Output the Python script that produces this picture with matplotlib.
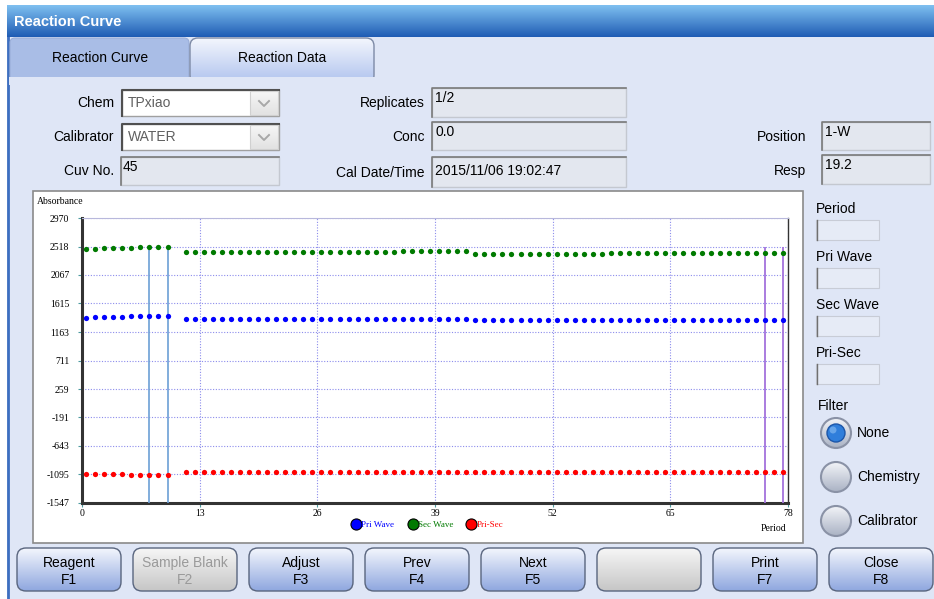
import numpy as np
import matplotlib.pyplot as plt
import matplotlib.colors as mcolors
from matplotlib.patches import Rectangle, FancyBboxPatch, Circle
from matplotlib.lines import Line2D

W, H = 934, 599

# ---- chart data ----
periods = list(range(1, 11)) + list(range(12, 79))

pri_wave = [1387, 1396, 1401, 1405, 1408, 1410, 1412, 1415, 1416, 1418,
            1371, 1372, 1372, 1373, 1373, 1373, 1374, 1374, 1374, 1374,
            1375, 1375, 1375, 1375, 1375, 1375, 1376, 1376, 1376, 1376,
            1376, 1376, 1376, 1376, 1377, 1377, 1377, 1377, 1377, 1377,
            1377, 1377,
            1346, 1346, 1346, 1347, 1347, 1347, 1347, 1347, 1348, 1348,
            1348, 1348, 1348, 1348, 1348, 1349, 1349, 1349, 1349, 1349,
            1349, 1349, 1349, 1350, 1350, 1350, 1350, 1350, 1350, 1350,
            1350, 1350, 1350, 1351, 1351]

sec_wave = [2477, 2483, 2488, 2493, 2497, 2501, 2506, 2511, 2514, 2518,
            2434, 2435, 2435, 2436, 2436, 2436, 2437, 2437, 2437, 2437,
            2438, 2438, 2438, 2438, 2438, 2438, 2439, 2439, 2439, 2439,
            2439, 2439, 2439, 2439, 2440, 2440, 2440, 2440, 2440, 2440,
            2440, 2440,
            2405, 2405, 2405, 2406, 2406, 2406, 2406, 2406, 2407, 2407,
            2407, 2407, 2407, 2407, 2407, 2408, 2408, 2408, 2408, 2408,
            2408, 2408, 2408, 2409, 2409, 2409, 2409, 2409, 2409, 2409,
            2409, 2409, 2409, 2410, 2410]

pri_sec = [-1090, -1092, -1093, -1094, -1095, -1096, -1097, -1097, -1098, -1100,
           -1063, -1063, -1063, -1063, -1063, -1063, -1063, -1063, -1063, -1063,
           -1063, -1063, -1063, -1063, -1063, -1063, -1063, -1063, -1063, -1063,
           -1063, -1063, -1063, -1063, -1063, -1063, -1063, -1063, -1063, -1063,
           -1063, -1063,
           -1059, -1059, -1059, -1059, -1059, -1059, -1059, -1059, -1059, -1059,
           -1059, -1059, -1059, -1059, -1059, -1059, -1059, -1059, -1059, -1059,
           -1059, -1059, -1059, -1059, -1059, -1059, -1059, -1059, -1059, -1059,
           -1059, -1059, -1059, -1059, -1059]

y_ticks = [2970, 2518, 2067, 1615, 1163, 711, 259, -191, -643, -1095, -1547]
x_ticks = [0, 13, 26, 39, 52, 65, 78]
read_start = [8, 10]
read_end = [76, 78]

# ---- form contents ----
left_fields = [("Chem", "TPxiao"), ("Calibrator", "WATER"), ("Cuv No.", "45")]
mid_fields = [("Replicates", "1/2"), ("Conc", "0.0"),
              ("Cal Date/Time", "2015/11/06 19:02:47")]
right_fields = [("Position", "1-W"), ("Resp", "19.2")]
side_fields = ["Period", "Pri Wave", "Sec Wave", "Pri-Sec"]
filters = ["None", "Chemistry", "Calibrator"]
buttons = [("Reagent", "F1"), ("Sample Blank", "F2"), ("Adjust", "F3"),
           ("Prev", "F4"), ("Next", "F5"), ("", ""), ("Print", "F7"),
           ("Close", "F8")]
disabled = {1, 5}

UI = "Liberation Sans"
SERIF = "Liberation Serif"

fig = plt.figure(figsize=(W / 100, H / 100), dpi=100)
bg = fig.add_axes([0, 0, 1, 1])
bg.set_axis_off()


def gradient(x0, y0, x1, y1, top, bottom, clip=None, z=1):
    c0 = np.array(mcolors.to_rgb(top))
    c1 = np.array(mcolors.to_rgb(bottom))
    t = np.linspace(0, 1, 64)[:, None, None]
    img = c0 + (c1 - c0) * t
    im = bg.imshow(img, extent=(x0, x1, y1, y0), aspect="auto", zorder=z,
                   interpolation="bilinear")
    if clip is not None:
        im.set_clip_path(clip)
    return im


def sunken_box(x0, y0, x1, y1, face="#e3e7ef"):
    bg.add_patch(Rectangle((x0, y0), x1 - x0, y1 - y0, facecolor=face,
                           edgecolor="#c4c8d0", lw=1, zorder=2))
    bg.plot([x0, x0, x1], [y1, y0, y0], color="#7a7a7a", lw=1.2, zorder=3)


# window background
bg.add_patch(Rectangle((0, 0), W, H, facecolor="white", zorder=0))
bg.add_patch(Rectangle((7, 37), W - 7, H - 37, facecolor="#dfe6f6", zorder=0.5))
bg.plot([8, 8], [37, H], color="#3d6fc0", lw=2, zorder=1)
gradient(7, 5, W, 37, "#7fc0f0", "#1f5cb4")
bg.text(14, 22, "Reaction Curve", color="white", fontsize=10.5,
        fontweight="bold", family=UI, va="center", zorder=5)

# tabs
bg.add_patch(FancyBboxPatch((10, 38), 179, 45, boxstyle="round,pad=0,rounding_size=5",
                            facecolor="#a9bde6", edgecolor="#9aaed8", lw=0.8, zorder=2))
tab2 = FancyBboxPatch((190, 38), 184, 45, boxstyle="round,pad=0,rounding_size=8",
                      facecolor="none", edgecolor="#7d8aa6", lw=1, zorder=3)
bg.add_patch(tab2)
gradient(190, 38, 374, 83, "#f3f6fd", "#b0c3ee", clip=tab2, z=2)
bg.add_patch(Rectangle((9, 77), W, 8, facecolor="#dfe6f6", zorder=4))
bg.text(100, 58, "Reaction Curve", fontsize=10, family=UI, ha="center", va="center", zorder=5)
bg.text(282, 58, "Reaction Data", fontsize=10, family=UI, ha="center", va="center", zorder=5)

# left fields
rows = [(90, 116), (124, 150), (157, 185)]
for i, (lab, val) in enumerate(left_fields):
    y0, y1 = rows[i]
    bg.text(114, (y0 + y1) / 2, lab, fontsize=10, family=UI, ha="right", va="center", zorder=5)
    if i < 2:
        bg.add_patch(Rectangle((122, y0), 157, y1 - y0, facecolor="white",
                               edgecolor="#a0a0a0", lw=1, zorder=2))
        bg.plot([122, 122, 279], [y1, y0, y0], color="#505050", lw=1.5, zorder=3)
        btn = Rectangle((250, y0 + 1), 28, y1 - y0 - 2, facecolor="none",
                        edgecolor="#d0d0d0", lw=0.8, zorder=3)
        bg.add_patch(btn)
        gradient(250, y0 + 1, 278, y1 - 1, "#f6f6f6", "#e2e2e2", clip=btn, z=2.5)
        cy = (y0 + y1) / 2
        bg.plot([259, 264, 269], [cy - 2, cy + 3, cy - 2], color="#a8a8a8", lw=1.4, zorder=4)
        bg.text(128, cy, val, fontsize=10, family=UI, color="#606060", va="center", zorder=5)
    else:
        sunken_box(121, y0, 279, y1)
        bg.text(123, y0 + 10, val, fontsize=10, family=UI, va="center", zorder=5)

rows = [(88, 117), (122, 150), (157, 187)]
for i, (lab, val) in enumerate(mid_fields):
    y0, y1 = rows[i]
    bg.text(425, (y0 + y1) / 2 + 1, lab, fontsize=10, family=UI, ha="right", va="center", zorder=5)
    sunken_box(432, y0, 626, y1)
    ty = y0 + 10 if i < 2 else (y0 + y1) / 2 - 1
    bg.text(435, ty, val, fontsize=10, family=UI, va="center", zorder=5)

rows = [(122, 150), (155, 184)]
for i, (lab, val) in enumerate(right_fields):
    y0, y1 = rows[i]
    bg.text(806, (y0 + y1) / 2 + 1, lab, fontsize=10, family=UI, ha="right", va="center", zorder=5)
    sunken_box(822, y0, 930, y1)
    bg.text(825, y0 + 10, val, fontsize=10, family=UI, va="center", zorder=5)

# chart panel
bg.add_patch(Rectangle((33, 191), 770, 352, facecolor="white",
                       edgecolor="#8a8a8a", lw=1.2, zorder=2))

# right side read-outs
for i, lab in enumerate(side_fields):
    y = 209 + 48 * i
    bg.text(816, y, lab, fontsize=10, family=UI, va="center", zorder=5)
    bg.add_patch(Rectangle((816, y + 11), 63, 20, facecolor="#e6ebf6",
                           edgecolor="#c8ccd6", lw=0.8, zorder=2))
    bg.plot([816.5, 816.5], [y + 11, y + 31], color="#707070", lw=1, zorder=3)

bg.text(818, 406, "Filter", fontsize=10, family=UI, va="center", zorder=5)
for i, lab in enumerate(filters):
    cy = 433 + 44 * i
    outer = Circle((836, cy), 15, facecolor="none", edgecolor="#8a92a6", lw=1.5, zorder=3)
    bg.add_patch(outer)
    gradient(821, cy - 15, 851, cy + 15, "#f2f4f8", "#aab2c4", clip=outer, z=2.5)
    if i == 0:
        bg.add_patch(Circle((836, cy), 9, facecolor="#2f7edb", edgecolor="#1d56a8",
                            lw=1, zorder=4))
        bg.add_patch(Circle((833, cy - 3), 3.5, facecolor="#7fb6f0", edgecolor="none",
                            alpha=0.7, zorder=4.5))
    bg.text(857, cy, lab, fontsize=10, family=UI, va="center", zorder=5)

# bottom buttons
for i, (lab, key) in enumerate(buttons):
    x0 = 17 + 116 * i
    b = FancyBboxPatch((x0, 548), 104, 43, boxstyle="round,pad=0,rounding_size=9",
                       facecolor="none", edgecolor="#59657e", lw=1, zorder=3)
    bg.add_patch(b)
    if i in disabled:
        gradient(x0, 548, x0 + 104, 591, "#f6f6f6", "#c6c6c6", clip=b, z=2)
        tc = "#9a9a9a"
    else:
        gradient(x0, 548, x0 + 104, 591, "#f3f6fd", "#8fa7df", clip=b, z=2)
        tc = "black"
    bg.text(x0 + 52, 563, lab, fontsize=10, family=UI, ha="center", va="center", color=tc, zorder=5)
    bg.text(x0 + 52, 580, key, fontsize=10, family=UI, ha="center", va="center", color=tc, zorder=5)

bg.set_xlim(0, W)
bg.set_ylim(H, 0)

# ---- the reaction curve ----
ax = fig.add_axes([82 / W, 1 - 503 / H, (788 - 82) / W, (503 - 218) / H])
ax.set_zorder(10)
ax.set_facecolor("white")

xs = np.array(periods) - 0.55
ax.plot(xs, pri_wave, "o", color="#0000ff", ms=3.8, mec="none", zorder=4)
ax.plot(xs, sec_wave, "o", color="#007a00", ms=3.8, mec="none", zorder=4)
ax.plot(xs, pri_sec, "o", color="#ff0000", ms=3.8, mec="none", zorder=4)

ax.vlines(np.array(read_start) - 0.55, y_ticks[-1], y_ticks[1], color="#6c9fd6", lw=1.2, zorder=3)
ax.vlines(np.array(read_end) - 0.55, y_ticks[-1], y_ticks[1], color="#a472dc", lw=1.3, zorder=3)

ax.set_xlim(0, 78)
ax.set_ylim(-1547, 2970)
ax.set_xticks(x_ticks)
ax.set_yticks(y_ticks)
ax.set_yticklabels([str(v) for v in y_ticks])
ax.grid(True, color="#8c8cec", linestyle=(0, (1, 1.5)), lw=0.8, zorder=1)
ax.tick_params(axis="both", colors="#4c9aa0", labelcolor="black", labelsize=7,
               length=3, width=0.8)
ax.tick_params(axis="y", pad=6)
ax.tick_params(axis="x", pad=1.5)
for t in ax.get_xticklabels() + ax.get_yticklabels():
    t.set_family(SERIF)

ax.spines["left"].set_linewidth(2.2)
ax.spines["bottom"].set_linewidth(2.2)
ax.spines["left"].set_color("#333333")
ax.spines["bottom"].set_color("#333333")
ax.spines["right"].set_color("#333333")
ax.spines["right"].set_linewidth(1)
ax.spines["top"].set_color("#b8b8dc")
ax.spines["top"].set_linewidth(0.8)

ax.text(0.997, -0.088, "Period", transform=ax.transAxes, ha="right", va="center",
        fontsize=7, family=SERIF)
fig.text(37 / W, 1 - 202 / H, "Absorbance", ha="left", va="center",
         fontsize=7, family=SERIF)

handles = [Line2D([], [], marker="o", ls="none", ms=8, mfc=c, mec="black", mew=0.8)
           for c in ["#0000ff", "#007a00", "#ff0000"]]
leg = ax.legend(handles, ["Pri Wave", "Sec Wave", "Pri-Sec"], loc="center",
                bbox_to_anchor=(0.49, -0.077), ncol=3, frameon=False,
                handlelength=0.8, handletextpad=0.2, columnspacing=1.6,
                prop={"family": SERIF, "size": 6.5})
for txt, c in zip(leg.get_texts(), ["#0000ff", "#007a00", "#ff0000"]):
    txt.set_color(c)

fig.savefig("out.png", dpi=100)
